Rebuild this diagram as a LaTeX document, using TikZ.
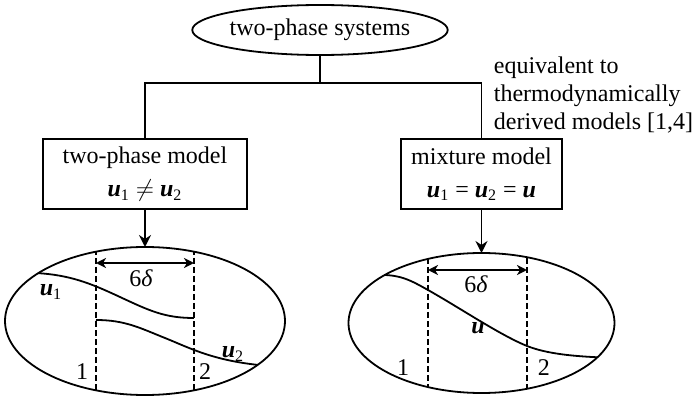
\documentclass[tikz,border=0pt]{standalone}
\usepackage{fontspec}
\setmainfont{Liberation Serif}
\usetikzlibrary{positioning, arrows.meta, shapes.geometric}
\newcommand{\vel}[1]{\textbf{\textit{u}}\textsubscript{#1}}

\begin{document}
\begin{tikzpicture}[
    x=0.5pt, y=-0.5pt,
    >={Stealth[length=6pt, width=6pt, inset=2pt]},
    line width=0.9pt,
    font=\fontsize{12}{14}\selectfont,
    oval/.style={draw, ellipse, inner sep=0pt, outer sep=0pt},
    model/.style={
        draw,
        align=center,
        inner sep=0pt,
        outer sep=0pt,
        minimum height=35pt
    },
    zone/.style={line width=0.7pt, dash pattern=on 3pt off 1.5pt},
    width/.style={<->, >={Stealth[length=5pt, width=5pt, inset=1.5pt]}},
    lbl/.style={inner sep=0pt}
]

\useasboundingbox (0,0) rectangle (693,396);

\node[oval, minimum width=127.5pt, minimum height=25pt] (sys) at (320,30) {two-phase systems};

\node[model, minimum width=102pt] (tpm) at (145,174) {two-phase model\\[2.5pt]\vel{1} $\neq$ \vel{2}};
\node[model, minimum width=80.5pt, right=77pt of tpm] (mix) {mixture model\\[2.5pt]\vel{1} = \vel{2} = \textbf{\textit{u}}};

\node[lbl, anchor=west, align=left] (note) at (493,95) {equivalent to\\thermodynamically\\derived models [1,4]};

\node[oval, minimum width=140pt, minimum height=74pt, below=19pt of tpm] (left) {};
\node[oval, minimum width=133pt, minimum height=70pt, below=22pt of mix] (right) {};

\coordinate[below=14pt of sys.south] (split);

\draw (sys) -- (split);
\draw (tpm.north) |- (split) -| (mix.north);
\draw[->] (tpm) -- (left);
\draw[->] (mix) -- (right);

\begin{scope}
    \clip (left.center) ellipse [x radius=70pt, y radius=37pt];
    \draw[zone] (96,240) -- (96,400);
    \draw[zone] (194,240) -- (194,400);
    \draw (36,273) .. controls (70,275) and (90,283) .. (120,297) .. controls (150,311) and (165,318) .. (194,318);
    \draw (96,320) .. controls (125,320) and (140,328) .. (165,338) .. controls (190,348) and (215,362) .. (270,366);
\end{scope}

\begin{scope}
    \clip (right.center) ellipse [x radius=66.5pt, y radius=35pt];
    \draw[zone] (428,240) -- (428,400);
    \draw[zone] (527,240) -- (527,400);
    \draw (375,275) .. controls (400,274) and (410,280) .. (428,290) .. controls (460,308) and (500,335) .. (527,346) .. controls (545,353) and (570,357) .. (620,358);
\end{scope}

\coordinate (la) at (96,263);
\coordinate (lb) at (194,263);
\coordinate (ra) at (428,270);
\coordinate (rb) at (527,270);
\draw[width] (la) -- (lb);
\draw[width] (ra) -- (rb);

\node[lbl] (ldelta) at (141,278) {6\textit{δ}};
\node[lbl] (lu1) at (51,292) {\vel{1}};
\node[lbl] (lu2) at (233,354) {\vel{2}};
\node[lbl] (lone) at (82,372) {1};
\node[lbl] (ltwo) at (205,372) {2};

\node[lbl] (rdelta) at (476,284) {6\textit{δ}};
\node[lbl] (ru) at (478,328) {\textbf{\textit{u}}};
\node[lbl] (rone) at (403,368) {1};
\node[lbl] (rtwo) at (544,368) {2};

\end{tikzpicture}
\end{document}
